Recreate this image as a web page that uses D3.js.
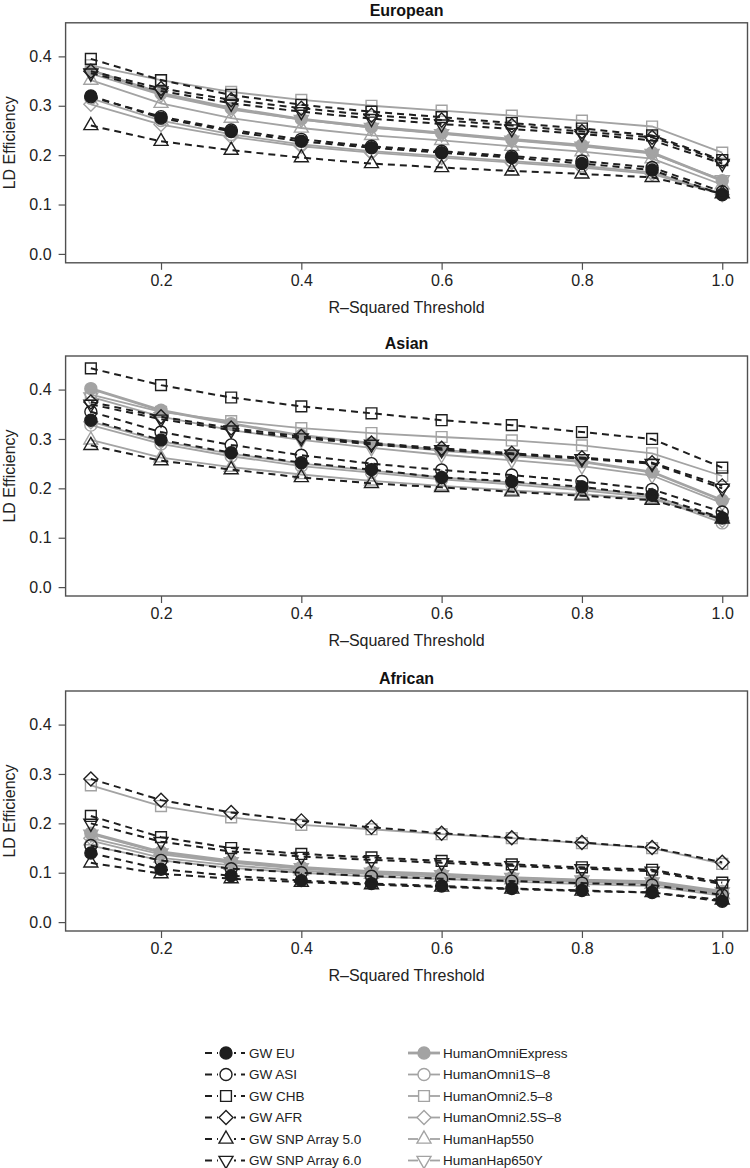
<!DOCTYPE html>
<html>
<head>
<meta charset="utf-8">
<script src="https://cdn.jsdelivr.net/npm/d3@7"></script>
<style>
  html, body { margin: 0; padding: 0; background: #fff; }
  svg { display: block; font-family: "Liberation Sans", Arial, Helvetica, sans-serif; }
</style>
</head>
<body>
<svg id="chart" width="750" height="1168"></svg>
<script>
// ---------- DATA ----------
const thresholds = [0.1, 0.2, 0.3, 0.4, 0.5, 0.6, 0.7, 0.8, 0.9, 1.0];
const xTickValues = [0.2, 0.4, 0.6, 0.8, 1.0];
const yTickValues = [0.0, 0.1, 0.2, 0.3, 0.4];
const panelTitles = ["European", "Asian", "African"];

const gwNames = ["GW EU", "GW ASI", "GW CHB", "GW AFR", "GW SNP Array 5.0", "GW SNP Array 6.0"];
const illuminaNames = ["HumanOmniExpress", "HumanOmni1S\u20138", "HumanOmni2.5\u20138", "HumanOmni2.5S\u20138", "HumanHap550", "HumanHap650Y"];
const gwSymbols = ["circleFilled", "circle", "square", "diamond", "triUp", "triDown"];
const illuminaSymbols = ["circleFilled", "circle", "square", "diamond", "triUp", "triDown"];

// European panel (rows follow gwNames / illuminaNames order)
const europeanGW = [
  [0.320, 0.275, 0.248, 0.228, 0.215, 0.205, 0.195, 0.183, 0.170, 0.120],
  [0.318, 0.278, 0.251, 0.232, 0.218, 0.208, 0.198, 0.188, 0.175, 0.126],
  [0.395, 0.352, 0.322, 0.302, 0.288, 0.277, 0.265, 0.254, 0.240, 0.190],
  [0.370, 0.335, 0.312, 0.295, 0.281, 0.271, 0.260, 0.248, 0.236, 0.188],
  [0.260, 0.228, 0.210, 0.195, 0.183, 0.175, 0.168, 0.162, 0.155, 0.122],
  [0.366, 0.330, 0.305, 0.288, 0.274, 0.263, 0.253, 0.243, 0.230, 0.183]
];
const europeanIllumina = [
  [0.372, 0.325, 0.295, 0.273, 0.257, 0.245, 0.232, 0.220, 0.205, 0.148],
  [0.315, 0.270, 0.242, 0.222, 0.208, 0.198, 0.188, 0.178, 0.165, 0.122],
  [0.382, 0.352, 0.328, 0.312, 0.300, 0.290, 0.280, 0.270, 0.258, 0.205],
  [0.303, 0.262, 0.237, 0.218, 0.205, 0.195, 0.185, 0.175, 0.162, 0.120],
  [0.352, 0.305, 0.275, 0.255, 0.240, 0.230, 0.218, 0.207, 0.193, 0.140],
  [0.365, 0.322, 0.292, 0.272, 0.256, 0.243, 0.230, 0.218, 0.203, 0.150]
];

// Asian panel
const asianGW = [
  [0.338, 0.298, 0.272, 0.252, 0.238, 0.222, 0.214, 0.203, 0.186, 0.140],
  [0.355, 0.314, 0.288, 0.267, 0.250, 0.237, 0.227, 0.214, 0.198, 0.152],
  [0.443, 0.409, 0.384, 0.366, 0.352, 0.338, 0.328, 0.314, 0.300, 0.242],
  [0.375, 0.345, 0.322, 0.305, 0.292, 0.281, 0.271, 0.262, 0.252, 0.205],
  [0.287, 0.256, 0.238, 0.222, 0.210, 0.202, 0.193, 0.185, 0.176, 0.138],
  [0.370, 0.340, 0.318, 0.302, 0.289, 0.278, 0.269, 0.260, 0.250, 0.200]
];
const asianIllumina = [
  [0.402, 0.358, 0.331, 0.307, 0.291, 0.277, 0.267, 0.254, 0.233, 0.176],
  [0.328, 0.290, 0.265, 0.245, 0.232, 0.218, 0.208, 0.196, 0.182, 0.130],
  [0.390, 0.355, 0.336, 0.322, 0.312, 0.304, 0.297, 0.287, 0.271, 0.225],
  [0.335, 0.295, 0.270, 0.250, 0.236, 0.222, 0.212, 0.200, 0.186, 0.135],
  [0.298, 0.262, 0.243, 0.228, 0.215, 0.205, 0.196, 0.188, 0.178, 0.140],
  [0.385, 0.345, 0.318, 0.298, 0.282, 0.268, 0.257, 0.245, 0.226, 0.170]
];

// African panel
const africanGW = [
  [0.140, 0.107, 0.094, 0.084, 0.078, 0.073, 0.068, 0.064, 0.060, 0.042],
  [0.155, 0.125, 0.108, 0.100, 0.093, 0.088, 0.083, 0.079, 0.075, 0.055],
  [0.215, 0.172, 0.150, 0.138, 0.131, 0.124, 0.117, 0.111, 0.106, 0.080],
  [0.290, 0.247, 0.222, 0.205, 0.192, 0.180, 0.171, 0.161, 0.151, 0.121],
  [0.120, 0.098, 0.088, 0.081, 0.076, 0.071, 0.067, 0.063, 0.060, 0.045],
  [0.200, 0.163, 0.143, 0.133, 0.126, 0.120, 0.114, 0.108, 0.103, 0.077]
];
const africanIllumina = [
  [0.180, 0.142, 0.124, 0.111, 0.102, 0.097, 0.090, 0.085, 0.082, 0.062],
  [0.155, 0.125, 0.110, 0.100, 0.092, 0.087, 0.082, 0.077, 0.073, 0.053],
  [0.277, 0.235, 0.212, 0.197, 0.188, 0.178, 0.170, 0.160, 0.150, 0.118],
  [0.170, 0.137, 0.120, 0.108, 0.100, 0.094, 0.088, 0.083, 0.079, 0.058],
  [0.165, 0.130, 0.115, 0.104, 0.097, 0.091, 0.086, 0.081, 0.077, 0.056],
  [0.178, 0.140, 0.122, 0.110, 0.101, 0.096, 0.090, 0.085, 0.081, 0.061]
];

const panelGW = [europeanGW, asianGW, africanGW];
const panelIllumina = [europeanIllumina, asianIllumina, africanIllumina];

// ---------- STYLE / LAYOUT ----------
const BLACK = "#1e1e1e";
const GRAY = "#a3a3a3";
const BOX = "#505050";
const plotLeft = 65.6, plotRight = 747.5, plotHeight = 240;
const panelTops = [22.8, 356, 691];

const svg = d3.select("#chart");

function symbolPath(kind) {
  switch (kind) {
    case "circle":
    case "circleFilled": {
      const r = 6;
      return `M${r},0A${r},${r} 0 1,1 ${-r},0A${r},${r} 0 1,1 ${r},0Z`;
    }
    case "square": { const s = 5.4; return `M${-s},${-s}H${s}V${s}H${-s}Z`; }
    case "diamond": { const d = 7; return `M0,${-d}L${d},0L0,${d}L${-d},0Z`; }
    case "triUp": { const w = 7; return `M0,-8L${w},4.1L${-w},4.1Z`; }
    case "triDown": { const w = 7; return `M0,8L${w},-4.1L${-w},-4.1Z`; }
  }
}

function drawMarker(g, kind, color, cx, cy) {
  g.append("path")
    .attr("d", symbolPath(kind))
    .attr("transform", `translate(${cx},${cy})`)
    .attr("fill", kind === "circleFilled" ? color : "none")
    .attr("stroke", color)
    .attr("stroke-width", 1.4);
}

const x = d3.scaleLinear().domain([0.064, 1.036]).range([plotLeft, plotRight]);

panelTitles.forEach((title, p) => {
  const top = panelTops[p];
  const y = d3.scaleLinear().domain([-0.018, 0.468]).range([top + plotHeight, top]);
  const g = svg.append("g");

  // title
  g.append("text")
    .attr("x", (plotLeft + plotRight) / 2)
    .attr("y", top - 7)
    .attr("text-anchor", "middle")
    .attr("font-size", 16)
    .attr("font-weight", "bold")
    .attr("fill", "#111")
    .text(title);

  // axes
  const xAxis = g.append("g")
    .attr("transform", `translate(0,${top + plotHeight})`)
    .call(d3.axisBottom(x).tickValues(xTickValues).tickSize(7).tickPadding(5).tickFormat(d3.format(".1f")));
  const yAxis = g.append("g")
    .attr("transform", `translate(${plotLeft},0)`)
    .call(d3.axisLeft(y).tickValues(yTickValues).tickSize(7).tickPadding(7).tickFormat(d3.format(".1f")));
  [xAxis, yAxis].forEach(a => {
    a.select(".domain").remove();
    a.selectAll("line").attr("stroke", BOX).attr("stroke-width", 1.2);
    a.selectAll("text").attr("font-size", 16).attr("fill", "#222")
      .attr("font-family", "'Liberation Sans', Arial, sans-serif");
  });

  // axis labels
  g.append("text")
    .attr("x", (plotLeft + plotRight) / 2)
    .attr("y", top + plotHeight + 50)
    .attr("text-anchor", "middle")
    .attr("font-size", 16)
    .attr("fill", "#222")
    .text("R\u2013Squared Threshold");
  g.append("text")
    .attr("transform", `translate(15,${top + plotHeight / 2}) rotate(-90)`)
    .attr("text-anchor", "middle")
    .attr("font-size", 16)
    .attr("fill", "#222")
    .text("LD Efficiency");

  const line = d3.line().x((d, i) => x(thresholds[i])).y(d => y(d));

  // Illumina (gray, solid)
  panelIllumina[p].forEach((vals, s) => {
    g.append("path").datum(vals)
      .attr("d", line)
      .attr("fill", "none")
      .attr("stroke", GRAY)
      .attr("stroke-width", s === 0 ? 2.8 : 1.8);
  });
  panelIllumina[p].forEach((vals, s) => {
    vals.forEach((v, i) => drawMarker(g, illuminaSymbols[s], GRAY, x(thresholds[i]), y(v)));
  });

  // GW (black, dashed)
  panelGW[p].forEach((vals, s) => {
    g.append("path").datum(vals)
      .attr("d", line)
      .attr("fill", "none")
      .attr("stroke", BLACK)
      .attr("stroke-width", 2)
      .attr("stroke-dasharray", "7,5");
  });
  panelGW[p].forEach((vals, s) => {
    vals.forEach((v, i) => drawMarker(g, gwSymbols[s], BLACK, x(thresholds[i]), y(v)));
  });

  // box
  g.append("rect")
    .attr("x", plotLeft).attr("y", top)
    .attr("width", plotRight - plotLeft).attr("height", plotHeight)
    .attr("fill", "none").attr("stroke", BOX).attr("stroke-width", 1.4);
});

// ---------- LEGEND ----------
const legendTop = 1053, legendStep = 21.5;
const leg = svg.append("g");
gwNames.forEach((name, i) => {
  const cy = legendTop + i * legendStep;
  leg.append("line").attr("x1", 205).attr("x2", 245).attr("y1", cy).attr("y2", cy)
    .attr("stroke", BLACK).attr("stroke-width", 2).attr("stroke-dasharray", "7,5");
  leg.append("rect").attr("x", 218).attr("y", cy - 8).attr("width", 16).attr("height", 16).attr("fill", "#fff");
  drawMarker(leg, gwSymbols[i], BLACK, 226, cy);
  leg.append("text").attr("x", 249).attr("y", cy).attr("dy", "0.36em")
    .attr("font-size", 13.5).attr("fill", "#222").text(name);
});
illuminaNames.forEach((name, i) => {
  const cy = legendTop + i * legendStep;
  leg.append("line").attr("x1", 408).attr("x2", 440).attr("y1", cy).attr("y2", cy)
    .attr("stroke", GRAY).attr("stroke-width", i === 0 ? 2.8 : 1.8);
  if (illuminaSymbols[i] !== "circleFilled") {
    leg.append("rect").attr("x", 418).attr("y", cy - 5).attr("width", 12).attr("height", 10).attr("fill", "#fff");
  }
  drawMarker(leg, illuminaSymbols[i], GRAY, 424, cy);
  leg.append("text").attr("x", 443).attr("y", cy).attr("dy", "0.36em")
    .attr("font-size", 13.5).attr("fill", "#222").text(name);
});
</script>
</body>
</html>
